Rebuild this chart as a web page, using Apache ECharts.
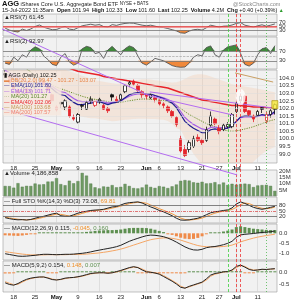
<!DOCTYPE html>
<html><head><meta charset="utf-8">
<script src="https://cdn.jsdelivr.net/npm/echarts/dist/echarts.min.js"></script>
<style>html,body{margin:0;padding:0;background:#fff}#c{width:300px;height:300px}</style>
</head><body><div id="c"></div>
<script>
// ---------- data ----------
const dates = ['Apr 13','Apr 14','Apr 18','Apr 19','Apr 20','Apr 21','Apr 22','Apr 25','Apr 26','Apr 27','Apr 28','Apr 29','May 2','May 3','May 4','May 5','May 6','May 9','May 10','May 11','May 12','May 13','May 16','May 17','May 18','May 19','May 20','May 23','May 24','May 25','May 26','May 27','May 31','Jun 1','Jun 2','Jun 3','Jun 6','Jun 7','Jun 8','Jun 9','Jun 10','Jun 13','Jun 14','Jun 15','Jun 16','Jun 17','Jun 21','Jun 22','Jun 23','Jun 24','Jun 27','Jun 28','Jun 29','Jun 30','Jul 1','Jul 5','Jul 6','Jul 7','Jul 8','Jul 11','Jul 12','Jul 13','Jul 14','Jul 15'];
const tickDates = ['Apr 18','Apr 25','May 2','May 9','May 16','May 23','Jun 1','Jun 6','Jun 13','Jun 21','Jun 27','Jul 1','Jul 11'];
const tickLabels = ['18','25','May','9','16','23','Jun','6','13','21','27','Jul','11'];

const openP  = [104.2,104.1,103.6,103.2,103.0,103.3,103.1,103.4,103.8,103.8,103.5,102.9,102.1,102.4,102.1,102.1,101.4,101.1,102.2,101.95,102.5,102.2,102.5,102.2,102.0,102.9,102.6,102.6,103.1,103.6,103.8,103.5,103.1,102.9,102.7,102.7,102.5,102.3,102.1,101.8,101.4,100.0,99.3,99.3,99.5,100.1,99.9,99.9,100.9,101.3,100.7,100.6,100.8,100.8,101.8,102.5,102.8,101.85,101.5,101.55,102.05,101.2,101.6,101.94];
const highP  = [104.5,104.2,103.7,103.3,103.5,103.4,103.3,103.8,104.1,103.9,103.6,103.0,102.2,102.5,102.6,102.2,101.6,101.7,102.3,102.5,102.8,102.5,102.7,102.3,102.1,103.0,102.8,103.0,103.6,103.8,103.9,103.6,103.2,103.0,103.0,102.8,102.6,102.4,102.2,101.9,101.5,100.2,99.6,99.9,100.2,100.3,100.0,100.8,101.8,101.4,100.9,101.0,101.1,101.7,102.5,103.0,102.9,101.9,101.6,101.9,102.1,101.8,101.95,102.33];
const lowP   = [104.0,103.6,103.2,102.8,102.9,102.9,102.9,103.3,103.7,103.5,103.1,102.4,101.8,102.0,101.9,101.4,101.2,101.0,101.9,101.9,102.3,102.1,102.3,101.9,101.7,102.5,102.4,102.5,103.0,103.4,103.5,103.1,102.7,102.6,102.6,102.4,102.2,102.0,101.7,101.4,100.8,99.1,98.8,99.1,99.4,99.8,99.6,99.8,100.8,100.9,100.3,100.5,100.7,100.7,101.7,102.3,101.7,101.5,101.1,101.5,101.7,101.0,101.4,101.60];
const closeP = [104.3,103.7,103.3,102.9,103.4,103.0,103.2,103.7,104.0,103.6,103.2,102.5,101.9,102.3,102.5,101.5,101.3,101.6,102.15,102.4,102.6,102.45,102.6,101.95,101.85,102.75,102.5,102.9,103.5,103.7,103.6,103.2,102.9,102.8,102.9,102.6,102.3,102.2,101.85,101.5,100.95,99.2,98.9,99.75,100.0,99.9,99.75,100.6,101.5,101.0,100.5,100.9,100.95,101.6,102.35,102.8,101.8,101.6,101.3,101.8,101.95,101.6,101.85,102.25];

const bbUpper = [107.1,106.9,106.7,106.5,106.3,106.1,105.9,105.7,105.5,105.3,105.1,104.95,104.8,104.65,104.55,104.45,104.35,104.25,104.15,104.05,103.95,103.85,103.8,103.75,103.7,103.65,103.62,103.62,103.65,103.72,103.8,103.88,103.92,103.92,103.9,103.86,103.82,103.78,103.72,103.7,103.72,103.8,103.95,104.1,104.2,104.25,104.25,104.2,104.1,104.0,103.9,103.8,103.7,103.6,103.55,103.5,103.45,103.4,103.35,103.3,103.25,103.2,103.12,103.07];
const bbLower = [104.1,103.9,103.7,103.5,103.3,103.1,102.9,102.7,102.5,102.4,102.3,102.15,102.0,101.95,101.85,101.75,101.65,101.55,101.45,101.4,101.35,101.35,101.3,101.25,101.2,101.15,101.18,101.22,101.25,101.28,101.3,101.32,101.32,101.32,101.3,101.3,101.28,101.26,101.18,101.0,100.7,100.6,100.05,99.5,99.0,98.65,98.3,98.0,97.9,97.8,97.7,97.6,97.5,97.45,97.45,97.65,97.9,98.2,98.5,98.75,99.0,99.2,99.35,99.47];
const ma20  = [105.6,105.4,105.2,105.0,104.8,104.6,104.4,104.2,104.0,103.85,103.7,103.55,103.4,103.3,103.2,103.1,103.0,102.9,102.8,102.72,102.65,102.6,102.55,102.5,102.45,102.4,102.4,102.42,102.45,102.5,102.55,102.6,102.62,102.62,102.6,102.58,102.55,102.52,102.45,102.35,102.2,102.0,101.8,101.6,101.45,101.3,101.15,101.0,100.9,100.8,100.7,100.6,100.52,100.5,100.52,100.58,100.65,100.72,100.8,100.9,101.0,101.1,101.2,101.27];
const ema10 = [104.3,104.15,103.95,103.75,103.65,103.5,103.45,103.5,103.6,103.6,103.5,103.3,103.05,102.9,102.85,102.6,102.4,102.25,102.25,102.3,102.35,102.4,102.45,102.35,102.25,102.35,102.4,102.5,102.7,102.9,103.0,103.05,103.0,102.95,102.95,102.85,102.75,102.65,102.5,102.35,102.05,101.6,101.15,100.9,100.7,100.55,100.4,100.4,100.6,100.65,100.6,100.65,100.7,100.85,101.15,101.45,101.5,101.5,101.45,101.5,101.6,101.55,101.6,101.80];
const ema13 = [104.5,104.35,104.2,104.0,103.9,103.75,103.65,103.65,103.7,103.7,103.6,103.45,103.25,103.1,103.05,102.85,102.65,102.5,102.45,102.45,102.45,102.45,102.5,102.45,102.35,102.4,102.45,102.5,102.65,102.8,102.9,102.95,102.95,102.92,102.92,102.85,102.78,102.7,102.58,102.45,102.2,101.8,101.4,101.15,100.95,100.8,100.65,100.6,100.75,100.78,100.72,100.75,100.78,100.9,101.15,101.4,101.45,101.45,101.42,101.47,101.55,101.52,101.57,101.71];
const ema40 = [105.9,105.8,105.7,105.6,105.5,105.4,105.3,105.25,105.2,105.1,105.05,104.95,104.85,104.8,104.75,104.65,104.55,104.45,104.4,104.35,104.3,104.25,104.2,104.1,104.05,104.0,103.95,103.9,103.85,103.8,103.75,103.7,103.65,103.6,103.55,103.5,103.45,103.4,103.35,103.25,103.15,103.05,102.95,102.85,102.75,102.65,102.55,102.5,102.45,102.4,102.35,102.3,102.25,102.2,102.2,102.2,102.15,102.15,102.1,102.1,102.1,102.05,102.05,102.06];

const volumeM = [8.2,8.1,6.8,10.5,7.6,8.3,8.2,10.2,9.4,9.6,11.8,11.9,14.6,9.7,8.8,12.5,10.4,12.2,18.9,16.7,10.2,7.1,6.2,7.8,7.5,8.9,7.1,7.5,9.9,8.2,6.5,6.2,7.0,9.3,7.4,6.6,8.1,7.6,6.5,7.9,9.4,12.4,13.0,12.6,11.2,10.8,11.6,10.3,10.5,11.3,9.5,11.0,9.0,10.0,9.3,9.8,10.1,9.7,7.3,8.6,8.9,9.1,8.3,4.19];

const rsi7 = [40,30,24,20,35,28,36,48,56,45,38,32,33,42,48,35,32,42,52,56,60,55,58,48,45,58,54,60,64,66,65,60,55,52,55,50,45,43,38,32,26,16,14,25,32,34,30,42,55,50,45,50,51,56,64,68,55,50,45,52,57,50,55,61.45];
const rsi2 = [20,15,45,30,55,45,75,88,80,50,35,15,10,45,60,25,12,20,80,90,85,60,65,40,75,90,72,55,80,92,85,50,20,12,25,40,35,30,20,10,5,3,4,20,45,55,50,85,92,55,45,75,88,92,96,60,15,8,20,55,80,85,60,92.97];

const stoK = [15,10,6,4,5,3,6,12,18,22,28,34,38,25,22,22,30,38,44,48,52,54,55,58,64,70,72,80,88,92,94,96,90,80,70,62,52,45,35,25,12,3,2,4,8,12,20,30,40,45,48,52,55,65,85,96,88,78,68,62,58,62,68,73.08];
const stoD = [18,14,10,7,5,4,5,7,12,17,23,28,33,32,28,23,25,30,37,43,48,51,54,56,59,64,69,74,80,87,91,94,93,89,80,71,61,53,44,35,24,13,6,3,5,8,13,21,30,38,44,48,52,57,68,82,90,87,78,69,63,61,63,69.81];

const macd1 = [-1.02,-1.06,-1.1,-1.14,-1.15,-1.14,-1.12,-1.1,-1.07,-1.05,-1.05,-1.06,-1.07,-1.06,-1.05,-1.05,-1.04,-1.02,-1.0,-0.97,-0.93,-0.88,-0.84,-0.8,-0.76,-0.72,-0.67,-0.6,-0.5,-0.4,-0.32,-0.25,-0.18,-0.12,-0.09,-0.1,-0.13,-0.17,-0.24,-0.33,-0.44,-0.56,-0.68,-0.77,-0.83,-0.84,-0.8,-0.72,-0.68,-0.66,-0.62,-0.57,-0.5,-0.4,-0.2,-0.08,-0.05,-0.03,-0.01,0.02,0.04,0.06,0.08,0.115];
const signal1 = [-0.92,-0.95,-0.98,-1.01,-1.04,-1.06,-1.08,-1.08,-1.08,-1.08,-1.07,-1.07,-1.07,-1.07,-1.07,-1.06,-1.06,-1.05,-1.05,-1.04,-1.02,-1.0,-0.98,-0.95,-0.92,-0.88,-0.84,-0.79,-0.73,-0.66,-0.59,-0.52,-0.45,-0.38,-0.32,-0.28,-0.25,-0.23,-0.23,-0.25,-0.29,-0.34,-0.41,-0.48,-0.55,-0.61,-0.65,-0.67,-0.68,-0.68,-0.67,-0.66,-0.63,-0.59,-0.51,-0.43,-0.36,-0.3,-0.24,-0.19,-0.15,-0.11,-0.08,-0.045];
const hist1 = [-0.1,-0.11,-0.12,-0.13,-0.11,-0.08,-0.04,-0.02,0.01,0.03,0.02,0.01,0.0,0.01,0.02,0.01,0.02,0.03,0.05,0.07,0.09,0.12,0.14,0.15,0.16,0.16,0.17,0.19,0.23,0.26,0.27,0.27,0.27,0.26,0.23,0.18,0.12,0.06,-0.01,-0.08,-0.15,-0.22,-0.27,-0.29,-0.28,-0.23,-0.15,-0.05,0.0,0.02,0.05,0.09,0.13,0.19,0.31,0.35,0.31,0.27,0.23,0.21,0.19,0.17,0.16,0.160];

const macd2 = [-0.45,-0.52,-0.55,-0.48,-0.38,-0.3,-0.25,-0.22,-0.2,-0.2,-0.25,-0.31,-0.33,-0.3,-0.25,-0.23,-0.22,-0.19,-0.15,-0.1,-0.05,-0.03,-0.02,-0.02,-0.04,-0.02,0.03,0.08,0.14,0.2,0.24,0.2,0.1,0.02,0.0,-0.03,-0.08,-0.18,-0.28,-0.38,-0.5,-0.64,-0.68,-0.6,-0.54,-0.48,-0.42,-0.28,-0.12,-0.05,-0.02,0.02,0.03,0.1,0.25,0.31,0.22,0.12,0.08,0.1,0.13,0.12,0.14,0.154];
const signal2 = [-0.4,-0.47,-0.53,-0.51,-0.42,-0.33,-0.27,-0.23,-0.21,-0.2,-0.23,-0.29,-0.32,-0.31,-0.27,-0.24,-0.22,-0.2,-0.17,-0.12,-0.07,-0.04,-0.02,-0.02,-0.03,-0.02,0.01,0.06,0.12,0.18,0.22,0.21,0.14,0.05,0.01,-0.02,-0.06,-0.14,-0.24,-0.35,-0.46,-0.59,-0.67,-0.62,-0.56,-0.5,-0.44,-0.33,-0.17,-0.08,-0.04,0.01,0.03,0.08,0.2,0.29,0.25,0.15,0.1,0.1,0.12,0.12,0.13,0.148];
const hist2 = [-0.05,-0.05,-0.02,0.03,0.04,0.03,0.02,0.01,0.01,0.0,-0.02,-0.02,-0.01,0.01,0.02,0.01,0.0,0.01,0.02,0.02,0.02,0.01,0.0,0.0,-0.01,0.0,0.02,0.02,0.02,0.02,0.02,-0.01,-0.04,-0.03,-0.01,-0.01,-0.02,-0.04,-0.04,-0.03,-0.04,-0.05,-0.01,0.02,0.02,0.02,0.02,0.05,0.05,0.03,0.02,0.01,0.0,0.02,0.05,0.02,-0.03,-0.03,-0.02,0.0,0.01,0.0,0.01,0.007];

// annotation lines (date index, price units)
const trendUpperA = [[-1.2,107.30],[33.84,102.82],[53.2,101.57]];
const trendUpperB = [[33.8,103.09],[62.6,102.03]];
const trendLower  = [[-1.2,102.03],[54.2,97.63]];
const trendTan    = [[53.7,104.34],[62.6,103.74]];
const markerGreen = [52, 61];
const markerRed   = [54, 55];

const priceTicks = [99.0,99.5,100.0,100.5,101.0,101.5,102.0,102.5,103.0,103.5,104.0];

// ---------- chart ----------
const FF = 'Liberation Sans, Arial, sans-serif';
const tickSet = new Set(tickDates);
const L = 3, R = 23;
const panels = [
  {top:14, height:22},   // RSI7
  {top:37, height:32},   // RSI2
  {top:70, height:93},   // price
  {top:170, height:26},  // volume
  {top:197, height:26},  // STO
  {top:224, height:36},  // MACD 12,26,9
  {top:261, height:31}   // MACD 5,9,2
];
const grids = panels.map(p => ({left:L, right:R, top:p.top, height:p.height, show:true, backgroundColor:'#f1f1f1', borderColor:'#9a9a9a', borderWidth:0.6}));
grids.push({left:L, right:R, top:14, height:278, show:false});

function catAxis(gi, showLabel){
  return {type:'category', gridIndex:gi, data:dates, boundaryGap:true,
    axisLine:{show:false}, axisTick:{show:false},
    axisLabel:{show:showLabel, interval:(i,v)=>tickSet.has(v), margin:2, fontSize:6, fontFamily:FF, color:'#222',
      formatter:v=>{const t=tickLabels[tickDates.indexOf(v)]; return /[A-Z]/.test(t)?'{m|'+t+'}':t;},
      rich:{m:{fontWeight:'bold', fontSize:6, fontFamily:FF, color:'#111'}}},
    splitLine:{show:true, alignWithLabel:true, interval:(i,v)=>tickSet.has(v), lineStyle:{color:'#d2d2d2', width:0.6}}};
}
function valAxis(gi, min, max, labels, fmt){
  return {type:'value', gridIndex:gi, position:'right', min, max,
    axisLine:{show:false}, axisTick:{show:false}, splitLine:{show:false},
    axisLabel:{customValues:labels, formatter:fmt, fontSize:6, fontFamily:FF, color:'#333', margin:2}};
}
const xAxis = panels.map((p,i)=>catAxis(i, i===2||i===6));
xAxis.push({type:'value', gridIndex:7, min:-0.5, max:63.5, show:false});
const yAxis = [
  valAxis(0, 0, 112, [10,30,50,70,90], v=>String(v)),
  valAxis(1, -4.2, 129, [10,30,70,90], v=>String(v)),
  valAxis(2, 98.41, 104.53, priceTicks, v=>v.toFixed(1)),
  valAxis(3, 0, 21.3, [5,10,15,20], v=>v+'M'),
  valAxis(4, -12.3, 121, [20,50,80], v=>String(v)),
  valAxis(5, -1.335, 0.465, [-1,-0.5,0], v=>v.toFixed(1)),
  valAxis(6, -0.842, 0.483, [-0.5,0], v=>v.toFixed(1)),
  {type:'value', gridIndex:7, min:89.928, max:108.217, show:false}
];

function hlines(list){
  return {silent:true, symbol:'none', animation:false, label:{show:false},
    data:list.map(([v,c,t,w])=>({yAxis:v, lineStyle:{color:c, type:t||'solid', width:w||0.8}}))};
}
const base = {animation:false, silent:true};
function ln(gi, data, color, width, extra){
  return Object.assign({type:'line', xAxisIndex:gi, yAxisIndex:gi, data, symbol:'none', lineStyle:{color, width}, z:3}, base, extra||{});
}

const green='#3f8a3a', orange='#f0883a';
const series = [];
// RSI(7)
series.push(ln(0, rsi7.map(v=>Math.max(v,70)), green, 0, {areaStyle:{origin:70, color:green, opacity:1}}));
series.push(ln(0, rsi7.map(v=>Math.min(v,30)), orange, 0, {areaStyle:{origin:30, color:orange, opacity:1}}));
series.push(ln(0, rsi7, '#555', 0.9, {markLine:hlines([[70,'#777'],[30,'#777'],[50,'#e23a3a'],[45,'#f08080']])}));
// RSI(2)
series.push(ln(1, rsi2.map(v=>Math.max(v,70)), green, 0, {areaStyle:{origin:70, color:green, opacity:1}}));
series.push(ln(1, rsi2.map(v=>Math.min(v,30)), orange, 0, {areaStyle:{origin:30, color:orange, opacity:1}}));
series.push(ln(1, rsi2, '#555', 0.9, {markLine:hlines([[70,'#777'],[30,'#777'],[50,'#999','dashed',0.6]])}));
// price: BB band
series.push(ln(2, bbLower, 'rgba(0,0,0,0)', 0, {stack:'bb', z:1, markLine:hlines(priceTicks.map(v=>[v,'#dcdcdc','solid',0.5]))}));
series.push(ln(2, bbUpper.map((u,i)=>+(u-bbLower[i]).toFixed(3)), 'rgba(0,0,0,0)', 0, {stack:'bb', z:1, areaStyle:{color:'rgba(246,196,164,0.42)'}}));
series.push(ln(2, ma20, '#6a8f2a', 1, {lineStyle:{color:'#6a8f2a', width:1, type:[1.2,1.2]}}));
series.push(ln(2, ema13, '#a55ce6', 1.2));
series.push(ln(2, ema10, '#1f1f8f', 1.2));
series.push(ln(2, ema40, '#e8232a', 1.5));
const candleData = dates.map((d,i)=>{
  const o=openP[i], c=closeP[i], l=lowP[i], h=highP[i];
  const prev = i>0 ? closeP[i-1] : o;
  const col = c < prev ? '#e4252c' : '#111';
  const fill = c > o ? '#ffffff' : col;
  return {value:[o,c,l,h], itemStyle:{color:fill, color0:fill, borderColor:col, borderColor0:col, borderWidth:0.8}};
});
series.push(Object.assign({type:'candlestick', xAxisIndex:2, yAxisIndex:2, data:candleData, barWidth:3, z:4}, base));
// volume
series.push(Object.assign({type:'bar', xAxisIndex:3, yAxisIndex:3, data:volumeM, barWidth:3,
  itemStyle:{color:'#6f9a63', borderColor:'#4c7443', borderWidth:0.4}}, base));
// STO
series.push(ln(4, stoD, '#f29a45', 1, {markLine:hlines([[80,'#666'],[20,'#666'],[50,'#d84040',[3,1,1,1],0.7]])}));
series.push(ln(4, stoK, '#222', 1));
// MACD 12,26,9
const histBar = (gi, arr) => Object.assign({type:'bar', xAxisIndex:gi, yAxisIndex:gi, barWidth:3, barMinHeight:1,
  data:arr.map(v=>({value:v, itemStyle:{color: v>=0 ? '#5d8f50' : '#ef8b4a'}}))}, base);
series.push(histBar(5, hist1));
series.push(ln(5, signal1, '#f5a665', 1));
series.push(ln(5, macd1, '#222', 1));
// MACD 5,9,2
series.push(histBar(6, hist2));
series.push(ln(6, signal2, '#f5a665', 1));
series.push(ln(6, macd2, '#222', 1));
// overlay annotations
const ov = (data, color, width, type) => Object.assign({type:'line', xAxisIndex:7, yAxisIndex:7, data, symbol:'none', z:10,
  lineStyle:{color, width, type:type||'solid'}}, base);
series.push(ov(trendUpperA, '#b36cf0', 1));
series.push(ov(trendUpperB, '#b36cf0', 1));
series.push(ov(trendLower, '#b36cf0', 1));
series.push(ov(trendTan, '#c9a064', 1));
series.push(Object.assign({type:'line', xAxisIndex:7, yAxisIndex:7, data:[], z:9,
  markLine:{silent:true, symbol:'none', label:{show:false}, animation:false,
    data:[
      {xAxis:markerGreen[0], lineStyle:{color:'#3fcf3f', type:[3,2], width:0.8}},
      {xAxis:markerGreen[1], lineStyle:{color:'#4fb84f', type:[1,2], width:0.8}},
      {xAxis:markerRed[0], lineStyle:{color:'#e33', type:[3,2], width:0.8}},
      {xAxis:markerRed[1], lineStyle:{color:'#e33', type:[3,2], width:0.8}}
    ]}}, base));
series.push(Object.assign({type:'scatter', xAxisIndex:2, yAxisIndex:2, z:11,
  data:[{value:[55,102.75], symbol:'emptyCircle', symbolSize:[10,16], itemStyle:{color:'none', borderColor:'#e33', borderWidth:1}},
        {value:[63,102.25], symbol:'rect', symbolSize:[6,8], itemStyle:{color:'#f6ea3a', borderColor:'#a89000', borderWidth:0.8}}]}, base));

// ---------- text ----------
function txt(x, y, text, fill, size, weight, rich){
  return {type:'text', x, y, z:100, silent:true,
    style:{text, fill, font:(weight||'normal')+' '+size+'px '+FF, verticalAlign:'middle', align:'left', rich}};
}
const bs = {fontWeight:'bold', fontSize:5.5, fontFamily:FF, fill:'#111', color:'#111'};
const graphic = [
  {type:'rect', z:90, silent:true, shape:{x:3.3, y:71.5, width:58, height:44}, style:{fill:'rgba(246,232,222,0.85)'}},
  txt(2, 4, '{a|AGG} {n|iShares Core U.S. Aggregate Bond ETF} {s|NYSE + BATS}', '#111', 5.5, 'normal',
    {a:{fontWeight:'bold', fontSize:7.5, fontFamily:FF, fill:'#111'}, n:{fontSize:5.5, fontFamily:FF, fill:'#222'}, s:{fontSize:4.5, fontFamily:FF, fill:'#222'}}),
  txt(233, 4, '@StockCharts.com', '#888', 5.5),
  txt(2, 10.5, '15-Jul-2022 11:35am  {b|Open} 101.94  {b|High} 102.33  {b|Low} 101.60  {b|Last} 102.25  {b|Volume} 4.2M  {b|Chg} +0.40 (+0.39%) {g|▲}', '#111', 5.5, 'normal',
    {b:bs, g:{fill:'#2a9a2a', fontSize:5, fontFamily:FF}}),
  txt(4, 17, '▲RSI(7) 61.45', '#222', 6),
  txt(4, 41, '▲RSI(2) 92.97', '#222', 6),
  txt(4, 75, '▮ AGG (Daily) 102.25', '#111', 5.5),
  txt(4, 80.4, '▬ BB(20,2.0) 99.47 - 101.27 - 103.07', '#e8874a', 5.5),
  txt(4, 85.8, '— EMA(10) 101.80', '#1f1f8f', 5.5),
  txt(4, 91.2, '— EMA(13) 101.71', '#a55ce6', 5.5),
  txt(4, 96.6, '··· MA(20) 101.27', '#5c8a2e', 5.5),
  txt(4, 102, '— EMA(40) 102.06', '#e8232a', 5.5),
  txt(4, 107.4, '— MA(100) 103.68', '#c49a5a', 5.5),
  txt(4, 112.8, '— MA(200) 107.57', '#f07f6a', 5.5),
  txt(4, 173.5, '▲Volume 4,186,858', '#222', 6),
  txt(4, 201, '— Full STO %K(14,3) %D(3) 73.08, {o|69.81}', '#222', 6, 'normal', {o:{fill:'#f0902a', fontSize:6, fontFamily:FF}}),
  txt(4, 228, '— MACD(12,26,9) 0.115, {o|-0.045}, {g|0.160}', '#222', 6, 'normal', {o:{fill:'#f0902a', fontSize:6, fontFamily:FF}, g:{fill:'#5d8f50', fontSize:6, fontFamily:FF}}),
  txt(4, 265, '— MACD(5,9,2) 0.154, {o|0.148}, {g|0.007}', '#222', 6, 'normal', {o:{fill:'#f0902a', fontSize:6, fontFamily:FF}, g:{fill:'#5d8f50', fontSize:6, fontFamily:FF}})
];

const chart = echarts.init(document.getElementById('c'), null, {renderer:'canvas'});
chart.setOption({backgroundColor:'#fff', animation:false, grid:grids, xAxis, yAxis, series, graphic});
</script>
</body></html>
